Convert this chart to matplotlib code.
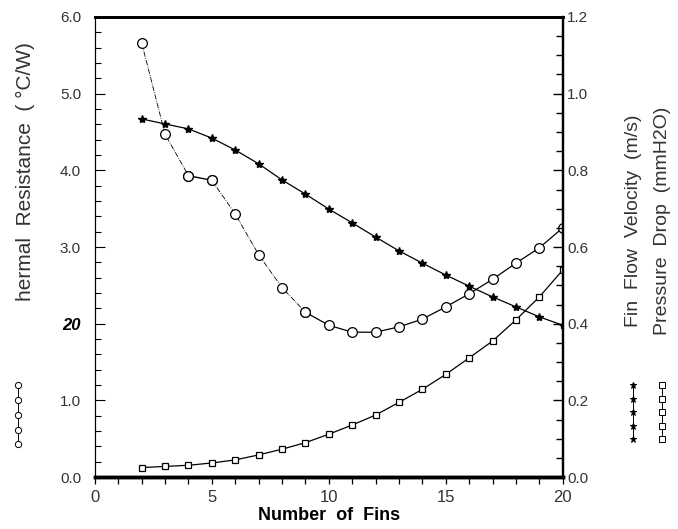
import matplotlib
matplotlib.use("Agg")
import matplotlib.pyplot as plt
from matplotlib.lines import Line2D
from matplotlib.ticker import MultipleLocator

# data
fins = [2, 3, 4, 5, 6, 7, 8, 9, 10, 11, 12, 13, 14, 15, 16, 17, 18, 19, 20]
thermal_res = [5.66, 4.47, 3.93, 3.87, 3.43, 2.90, 2.47, 2.15, 1.98, 1.89, 1.89,
               1.96, 2.06, 2.22, 2.39, 2.58, 2.79, 2.99, 3.25]
velocity = [0.934, 0.921, 0.908, 0.884, 0.853, 0.817, 0.775, 0.738, 0.699, 0.663,
            0.626, 0.590, 0.558, 0.527, 0.498, 0.470, 0.444, 0.418, 0.396]
pressure = [0.025, 0.028, 0.031, 0.037, 0.045, 0.058, 0.073, 0.090, 0.112, 0.136,
            0.162, 0.195, 0.229, 0.268, 0.311, 0.355, 0.410, 0.470, 0.540]

left_ticks = [0, 1, 2, 3, 4, 5, 6]
left_labels = ['0.0', '1.0', '20', '3.0', '4.0', '5.0', '6.0']
right_ticks = [0.0, 0.2, 0.4, 0.6, 0.8, 1.0, 1.2]
right_labels = ['0.0', '0.2', '0.4', '0.6', '0.8', '1.0', '1.2']

plt.rcParams['font.family'] = ['Liberation Sans', 'DejaVu Sans']
tick_col = '#333333'

fig = plt.figure(figsize=(6.78, 5.29), dpi=100)
ax = fig.add_axes([0.140, 0.098, 0.690, 0.870])
ax2 = ax.twinx()

# thermal resistance: dash-dot in the early part, solid afterwards
ax.plot(fins[0:3], thermal_res[0:3], color='k', lw=0.6, ls='-.',
        marker='o', mfc='white', mec='k', ms=7, mew=0.9)
ax.plot(fins[2:4], thermal_res[2:4], color='k', lw=1.0, ls='-',
        marker='o', mfc='white', mec='k', ms=7, mew=0.9)
ax.plot(fins[3:8], thermal_res[3:8], color='k', lw=0.6, ls='-.',
        marker='o', mfc='white', mec='k', ms=7, mew=0.9)
ax.plot(fins[7:], thermal_res[7:], color='k', lw=0.9, ls='-',
        marker='o', mfc='white', mec='k', ms=7, mew=0.9)

ax2.plot(fins, velocity, color='k', lw=0.9, marker='*', ms=6, mfc='k', mec='k')
ax2.plot(fins, pressure, color='k', lw=0.9, marker='s', ms=5, mfc='white',
         mec='k', mew=0.9)

ax.set_xlim(0, 20)
ax.set_ylim(0, 6)
ax2.set_ylim(0, 1.2)

ax.xaxis.set_major_locator(MultipleLocator(5))
ax.xaxis.set_minor_locator(MultipleLocator(1))
ax.tick_params(axis='x', which='both', direction='out', length=5, width=0.9,
               labelsize=12, labelcolor=tick_col, pad=4)

ax.set_yticks(left_ticks)
ax.set_yticklabels(left_labels)
ax.yaxis.set_minor_locator(MultipleLocator(0.2))
ax.tick_params(axis='y', which='major', direction='in', length=7, width=0.8,
               labelsize=11, labelcolor=tick_col, pad=10)
ax.tick_params(axis='y', which='minor', direction='in', length=4, width=0.8)
lab20 = ax.get_yticklabels()[2]
lab20.set_fontweight('bold')
lab20.set_fontstyle('italic')
lab20.set_color('k')
lab20.set_fontsize(12)

ax2.set_yticks(right_ticks)
ax2.set_yticklabels(right_labels)
ax2.yaxis.set_minor_locator(MultipleLocator(0.05))
ax2.tick_params(axis='y', which='major', direction='in', length=7, width=1.0,
                labelsize=11, labelcolor=tick_col, pad=3)
ax2.tick_params(axis='y', which='minor', direction='in', length=5, width=1.0)

for a in (ax, ax2):
    a.spines['top'].set_linewidth(2.0)
    a.spines['bottom'].set_linewidth(2.5)
    a.spines['left'].set_linewidth(0.8)
    a.spines['right'].set_linewidth(1.6)

ax.set_xlabel('Number  of  Fins', fontsize=13, fontweight='bold', labelpad=2)

# axis titles
fig.text(0.037, 0.675, 'hermal  Resistance  ( °C/W)', rotation=90,
         ha='center', va='center', fontsize=15, color=tick_col)
fig.text(0.934, 0.582, 'Fin  Flow  Velocity  (m/s)', rotation=90,
         ha='center', va='center', fontsize=14, color=tick_col)
fig.text(0.977, 0.582, 'Pressure  Drop  (mmH2O)', rotation=90,
         ha='center', va='center', fontsize=14, color=tick_col)

# key glyphs next to the axis titles
def key(xf, y0, y1, marker, ms, mfc):
    ys = [y0 + (y1 - y0) * i / 4 for i in range(5)]
    fig.add_artist(Line2D([xf] * 5, ys, transform=fig.transFigure, color='k',
                          lw=0.7, marker=marker, ms=ms, mfc=mfc, mec='k',
                          mew=0.7))

key(0.027, 0.160, 0.272, 'o', 4.5, 'white')
key(0.934, 0.170, 0.272, '*', 4.5, 'k')
key(0.977, 0.170, 0.272, 's', 4, 'white')

fig.savefig('out.png', dpi=100)
